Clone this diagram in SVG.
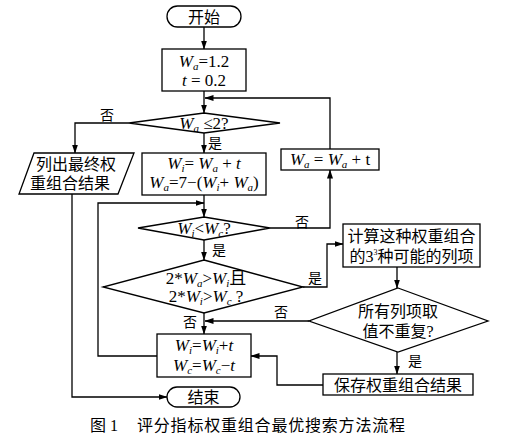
<svg xmlns="http://www.w3.org/2000/svg" width="505" height="440" viewBox="0 0 505 440">
<defs>
<marker id="ah" markerWidth="9" markerHeight="6" refX="8.5" refY="3" orient="auto" markerUnits="userSpaceOnUse">
<path d="M0,0 L9,3 L0,6 Z" fill="#000"/>
</marker>
<style>
.s{fill:#fff;stroke:#000;stroke-width:1.3}
.c{fill:none;stroke:#000;stroke-width:1.3;marker-end:url(#ah)}
.t{font-family:"Liberation Serif","Noto Sans CJK SC",serif;font-size:16px;fill:#000;text-anchor:middle}
.m{font-family:"Liberation Serif","Noto Sans CJK SC",serif;font-size:17px;fill:#000;text-anchor:middle}
.i{font-style:italic}
.sb{font-size:11px;font-style:italic}
.lb{font-family:"Liberation Serif","Noto Sans CJK SC",serif;font-size:14px;fill:#000}
</style>
</defs>
<rect width="505" height="440" fill="#fff"/>
<g id="connectors">
<path class="c" d="M204,27 V49"/>
<path class="c" d="M204,91 V113"/>
<path class="c" d="M330,149 V98 H205"/>
<path class="c" d="M129,123 H75 V153"/>
<path class="c" d="M204,133 V153"/>
<path class="c" d="M204,195 V217"/>
<path class="c" d="M157,356 H98 V203 H204"/>
<path class="c" d="M270,228 H330 V170"/>
<path class="c" d="M204,240 V260"/>
<path class="c" d="M303,287 H327 V244 H343"/>
<path class="c" d="M397,267 V288"/>
<path class="c" d="M309,321 H205"/>
<path class="c" d="M204,313 V334"/>
<path class="c" d="M397,352 V374"/>
<path class="c" d="M323,385 H277 V356 H251"/>
<path class="c" d="M72,194 V397 H167"/>
</g>
<g id="start">
<rect class="s" x="167" y="6" width="74" height="21" rx="10.5"/>
<text class="t" x="204" y="23">开始</text>
</g>
<g id="init">
<rect class="s" x="162" y="49" width="84" height="42"/>
<text class="m" x="204" y="67"><tspan class="i">W</tspan><tspan class="sb" dy="3">a</tspan><tspan dy="-3">=1.2</tspan></text>
<text class="m" x="204" y="86"><tspan class="i">t</tspan> = 0.2</text>
</g>
<g id="cond1">
<polygon class="s" points="204,113 280,123 204,133 129,123"/>
<text class="m" x="204" y="129"><tspan class="i">W</tspan><tspan class="sb" dy="3">a</tspan><tspan dy="-3"> ≤2?</tspan></text>
</g>
<g id="output">
<polygon class="s" points="34,153 134,153 118,194 19,194"/>
<text class="t" x="76" y="170">列出最终权</text>
<text class="t" x="70" y="189">重组合结果</text>
</g>
<g id="calc1">
<rect class="s" x="142" y="153" width="124" height="42"/>
<text class="m" x="204" y="169"><tspan class="i">W</tspan><tspan class="sb" dy="3">i</tspan><tspan dy="-3">= </tspan><tspan class="i">W</tspan><tspan class="sb" dy="3">a</tspan><tspan dy="-3"> + </tspan><tspan class="i">t</tspan></text>
<text class="m" x="204" y="188"><tspan class="i">W</tspan><tspan class="sb" dy="3">a</tspan><tspan dy="-3">=7−(</tspan><tspan class="i">W</tspan><tspan class="sb" dy="3">i</tspan><tspan dy="-3">+ </tspan><tspan class="i">W</tspan><tspan class="sb" dy="3">a</tspan><tspan dy="-3">)</tspan></text>
</g>
<g id="incA">
<rect class="s" x="281" y="149" width="98" height="21"/>
<text class="m" x="330" y="165"><tspan class="i">W</tspan><tspan class="sb" dy="3">a</tspan><tspan dy="-3"> = </tspan><tspan class="i">W</tspan><tspan class="sb" dy="3">a</tspan><tspan dy="-3"> + t</tspan></text>
</g>
<g id="cond2">
<polygon class="s" points="204,217 270,228 204,240 138,228"/>
<text class="m" x="204" y="234"><tspan class="i">W</tspan><tspan class="sb" dy="3">i</tspan><tspan dy="-3">&lt;</tspan><tspan class="i">W</tspan><tspan class="sb" dy="3">c</tspan><tspan dy="-3">?</tspan></text>
</g>
<g id="cond3">
<polygon class="s" points="204,260 303,287 204,313 103,287"/>
<text class="m" x="206" y="284">2*<tspan class="i">W</tspan><tspan class="sb" dy="3">a</tspan><tspan dy="-3">&gt;</tspan><tspan class="i">W</tspan><tspan class="sb" dy="3">i</tspan><tspan dy="-3">且</tspan></text>
<text class="m" x="206" y="302">2*<tspan class="i">W</tspan><tspan class="sb" dy="3">i</tspan><tspan dy="-3">&gt;</tspan><tspan class="i">W</tspan><tspan class="sb" dy="3">c</tspan><tspan dy="-3"> ?</tspan></text>
</g>
<g id="compute">
<rect class="s" x="343" y="224" width="137" height="43"/>
<text class="t" x="411.5" y="242">计算这种权重组合</text>
<text class="t" x="411.5" y="262">的3<tspan font-size="8" dy="-7">3</tspan><tspan dy="7">种可能的列项</tspan></text>
</g>
<g id="cond4">
<polygon class="s" points="398,288 488,321 398,352 309,321"/>
<text class="t" x="398" y="317">所有列项取</text>
<text class="t" x="398" y="337">值不重复?</text>
</g>
<g id="incI">
<rect class="s" x="157" y="334" width="94" height="43"/>
<text class="m" x="204" y="351"><tspan class="i">W</tspan><tspan class="sb" dy="3">i</tspan><tspan dy="-3">=</tspan><tspan class="i">W</tspan><tspan class="sb" dy="3">i</tspan><tspan dy="-3">+</tspan><tspan class="i">t</tspan></text>
<text class="m" x="204" y="371"><tspan class="i">W</tspan><tspan class="sb" dy="3">c</tspan><tspan dy="-3">=</tspan><tspan class="i">W</tspan><tspan class="sb" dy="3">c</tspan><tspan dy="-3">−</tspan><tspan class="i">t</tspan></text>
</g>
<g id="save">
<rect class="s" x="323" y="374" width="150" height="21"/>
<text class="t" x="398" y="391">保存权重组合结果</text>
</g>
<g id="end">
<rect class="s" x="167" y="387" width="73" height="20" rx="10"/>
<text class="t" x="203.5" y="403">结束</text>
</g>
<g id="labels">
<text class="lb" x="100" y="120">否</text>
<text class="lb" x="208" y="148">是</text>
<text class="lb" x="295" y="227">否</text>
<text class="lb" x="212" y="255">是</text>
<text class="lb" x="308" y="283">是</text>
<text class="lb" x="274" y="317">否</text>
<text class="lb" x="183" y="327">否</text>
<text class="lb" x="408" y="366">是</text>
</g>
<text x="90" y="431" font-family="Liberation Serif,'Noto Sans CJK SC',serif" font-size="16" fill="#000">图 1</text>
<text x="137" y="431" font-family="Liberation Serif,'Noto Sans CJK SC',serif" font-size="16" fill="#000" textLength="268" lengthAdjust="spacing">评分指标权重组合最优搜索方法流程</text>
</svg>
